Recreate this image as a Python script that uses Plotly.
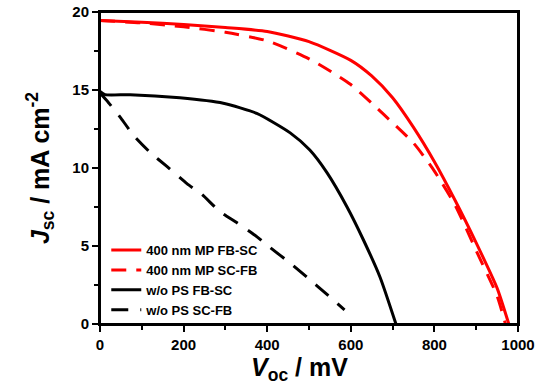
import plotly.graph_objects as go

# Data (V in mV, J in mA cm^-2)
mp_fbsc_v = [0, 100, 200, 300, 400, 500, 600, 650, 700, 750, 800, 850, 900, 950, 978]
mp_fbsc_j = [19.45, 19.35, 19.2, 19.0, 18.75, 18.1, 16.9, 15.9, 14.5, 12.6, 10.4, 7.9, 5.2, 2.3, 0]

mp_scfb_v = [0, 100, 200, 300, 400, 500, 600, 680, 750, 800, 850, 900, 950, 970]
mp_scfb_j = [19.45, 19.3, 19.05, 18.7, 18.15, 17.0, 15.35, 13.4, 11.6, 9.8, 7.6, 4.7, 1.8, 0]

ps_fbsc_v = [0, 12, 72, 191, 295, 375, 455, 502, 543, 591, 630, 670, 708]
ps_fbsc_j = [14.9, 14.7, 14.7, 14.5, 14.15, 13.5, 12.25, 11.15, 9.7, 7.5, 5.4, 3.0, 0]

ps_scfb_v = [0, 20, 50, 80, 120, 160, 208, 244, 287, 327, 375, 407, 455, 495, 543, 585]
ps_scfb_j = [14.8, 14.2, 13.2, 12.1, 11.0, 10.1, 9.0, 8.3, 7.2, 6.5, 5.6, 4.9, 3.9, 3.0, 1.9, 0.9]

series_names = ["400 nm MP FB-SC", "400 nm MP SC-FB", "w/o PS FB-SC", "w/o PS SC-FB"]

FONT = "Liberation Sans, Arial, sans-serif"

fig = go.Figure()
specs = [
    (mp_fbsc_v, mp_fbsc_j, "#ff0000", "solid"),
    (mp_scfb_v, mp_scfb_j, "#ff0000", "15px,10px"),
    (ps_fbsc_v, ps_fbsc_j, "#000000", "solid"),
    (ps_scfb_v, ps_scfb_j, "#000000", "17px,12px"),
]
for (v, j, c, d), name in zip(specs, series_names):
    fig.add_trace(go.Scatter(
        x=v, y=j, mode="lines", name=name,
        line=dict(color=c, width=3, dash=d, shape="spline", smoothing=0.6),
    ))

axis_common = dict(
    showgrid=False, zeroline=False, showline=True, linecolor="black", linewidth=2,
    mirror=True, ticks="outside", ticklen=6, tickwidth=2, tickcolor="black",
    tickfont=dict(family=FONT, size=15, color="black", weight="bold"),
    automargin=False, ticklabeloverflow="allow",
)

fig.update_layout(
    width=539, height=390,
    margin=dict(l=100, r=21, t=12, b=66),
    paper_bgcolor="white", plot_bgcolor="white",
    font=dict(family=FONT, color="black"),
    xaxis=dict(
        range=[0, 1000], tickvals=[0, 200, 400, 600, 800, 1000],
        minor=dict(tickvals=[100, 300, 500, 700, 900], ticklen=4, tickwidth=2, tickcolor="black", ticks="outside"),
        **axis_common,
    ),
    yaxis=dict(
        range=[0, 20], tickvals=[0, 5, 10, 15, 20],
        minor=dict(tickvals=[2.5, 7.5, 12.5, 17.5], ticklen=4, tickwidth=2, tickcolor="black", ticks="outside"),
        title=dict(text="<b><i>J</i><sub>sc</sub> / mA cm<sup>-2</sup></b>", font=dict(family=FONT, size=25, color="black"), standoff=16),
        **axis_common,
    ),
    legend=dict(
        x=0.015, y=0.285, xanchor="left", yanchor="top",
        bgcolor="rgba(0,0,0,0)", borderwidth=0,
        font=dict(family=FONT, size=13, color="black", weight="bold"),
        tracegroupgap=0, itemwidth=30,
    ),
    showlegend=True,
    shapes=[dict(type="rect", xref="paper", yref="paper", x0=0, y0=0, x1=1, y1=1,
                 line=dict(color="black", width=2), layer="above")],
    annotations=[dict(text="<b><i>V</i><sub>oc</sub> / mV</b>", xref="paper", yref="paper",
                      x=0.478, y=-0.085, xanchor="center", yanchor="top", showarrow=False,
                      font=dict(family=FONT, size=25, color="black"))],
)

fig.write_html("out.html", config={"displayModeBar": False},
               post_script="document.body.style.margin='0';document.body.style.overflow='hidden';")
